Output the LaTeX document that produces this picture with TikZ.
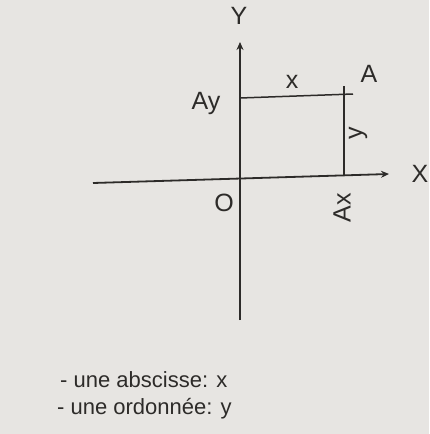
\documentclass[tikz,border=0pt]{standalone}
\usepackage{fontspec}
\setmainfont{Liberation Sans}
\usetikzlibrary{arrows.meta}
\definecolor{paper}{RGB}{231,229,226}
\definecolor{ink}{RGB}{45,43,41}
\begin{document}
\begin{tikzpicture}[x=1pt,y=-1pt,
  axis/.style={draw=ink,line width=1.8pt,-{Stealth[length=8pt,width=7pt]}},
  guide/.style={draw=ink,line width=1.5pt},
  lbl/.style={text=ink,font=\fontsize{25}{27}\selectfont,inner sep=0pt},
  note/.style={text=ink,font=\fontsize{22}{24}\selectfont,inner sep=0pt,anchor=west}]
\fill[paper] (0,0) rectangle (429,434);
\useasboundingbox (0,0) rectangle (429,434);
% axes
\coordinate (xs) at (93,183);
\coordinate (xe) at (389,174);
\coordinate (ys) at (240,320);
\coordinate (ye) at (240,42);
\draw[axis] (xs) -- (xe);
\draw[axis] (ys) -- (ye);
% guides
\coordinate (ayl) at (240,98);
\coordinate (ayr) at (353,94);
\coordinate (axt) at (344,86);
\coordinate (axb) at (344,175);
\draw[guide] (ayl) -- (ayr);
\draw[guide] (axt) -- (axb);
% labels
\node[lbl] (Y) at (239,16) {Y};
\node[lbl] (X) at (420,174) {X};
\node[lbl] (A) at (369,74) {A};
\node[lbl] (xl) at (292,82) {x};
\node[lbl] (Ay) at (206,103) {Ay};
\node[lbl,rotate=90] (yl) at (358,133) {y};
\node[lbl] (O) at (224,203) {O};
\node[lbl,rotate=90] (Ax) at (342,208) {Ax};
% notes
\node[note] (n1) at (60,380) {- une abscisse: x};
\node[note] (n2) at (57,409) {- une ordonnée: y};
\end{tikzpicture}
\end{document}
